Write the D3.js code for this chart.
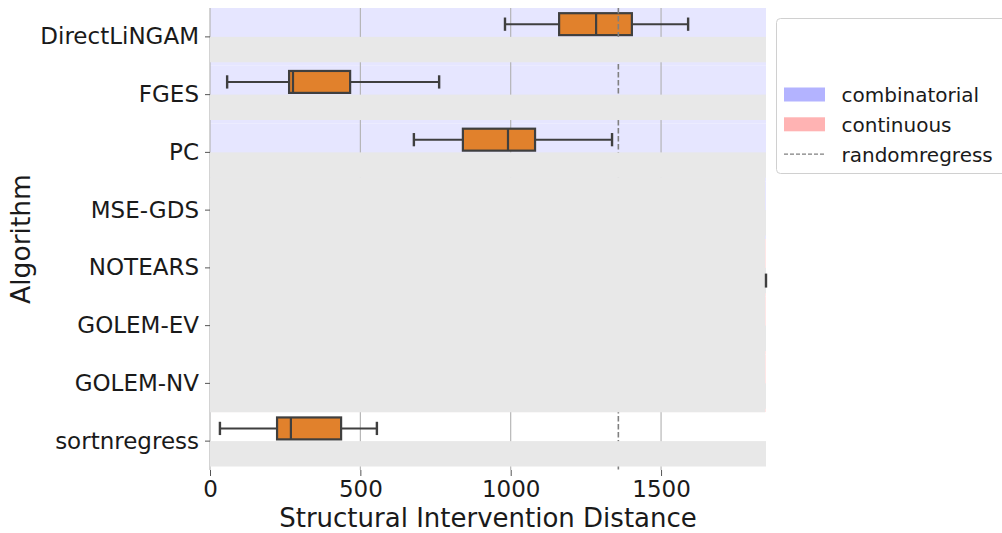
<!DOCTYPE html>
<html>
<head>
<meta charset="utf-8">
<script src="https://cdn.jsdelivr.net/npm/d3@7"></script>
<style>
  html, body { margin: 0; padding: 0; background: #fff; }
  svg { display: block; font-family: "DejaVu Sans", sans-serif; }
</style>
</head>
<body>
<svg id="chart" width="1002" height="533"></svg>
<script>
// chart values
const algorithms = ["DirectLiNGAM", "FGES", "PC", "MSE-GDS", "NOTEARS", "GOLEM-EV", "GOLEM-NV", "sortnregress"];
const bandType = ["combinatorial", "combinatorial", "combinatorial", "combinatorial", "continuous", "continuous", "continuous", "none"];
const greyedOut = [false, false, false, true, true, true, true, false];

// box stats (combinatorial hue, upper slot)
const whiskerLow = [981, 57, 678, null, null, null, null, 33];
const quart1 = [1161, 263, 841, null, null, null, null, 223];
const medians = [1284, 276, 991, null, null, null, null, 269];
const quart3 = [1403, 466, 1081, null, null, null, null, 436];
const whiskerHigh = [1590, 762, 1337, null, null, null, null, 555];

// continuous hue (lower slot) is almost all off the axis; only one cap shows
const contWhiskerLow = [null, null, null, null, 1849, null, null, null];

const randomRegress = 1358;
const xTicks = [0, 500, 1000, 1500];
const xMax = 1849;

const legendItems = ["combinatorial", "continuous", "randomregress"];

const bandColors = { combinatorial: "#e6e6ff", continuous: "#ffe6e6", none: "#ffffff" };
const legendColors = { combinatorial: "#b3b3ff", continuous: "#ffb3b3" };

const svg = d3.select("#chart");
const plotLeft = 210, plotRight = 766, plotTop = 8, plotBottom = 470;

const x = d3.scaleLinear().domain([0, xMax]).range([plotLeft, plotRight]);
const y = d3.scaleBand().domain(algorithms).range([plotTop, plotBottom]);
const step = y.step();
const rowMid = (a) => y(a) + step / 2;

const rows = algorithms.map((a, i) => ({
  name: a, type: bandType[i], grey: greyedOut[i],
  lo: whiskerLow[i], q1: quart1[i], med: medians[i], q3: quart3[i], hi: whiskerHigh[i],
  contLo: contWhiskerLow[i]
}));

// row bands
svg.append("g").selectAll("rect").data(rows).join("rect")
  .attr("x", plotLeft).attr("width", plotRight - plotLeft)
  .attr("y", d => y(d.name)).attr("height", step)
  .attr("fill", d => bandColors[d.type]);

// grid lines
svg.append("g").selectAll("line").data(xTicks).join("line")
  .attr("x1", d => x(d)).attr("x2", d => x(d))
  .attr("y1", plotTop).attr("y2", plotBottom)
  .attr("stroke", "#b0b0b0").attr("stroke-width", 1.1);

const boxH = step * 0.38;
const capH = step * 0.23;
const slot = step * 0.22;
const boxed = rows.filter(d => d.q1 != null);

const boxes = svg.append("g").selectAll("g").data(boxed).join("g")
  .attr("transform", d => `translate(0,${rowMid(d.name) - slot})`);

boxes.append("line")
  .attr("x1", d => x(d.lo)).attr("x2", d => x(d.q1))
  .attr("stroke", "#3f3f3f").attr("stroke-width", 2);
boxes.append("line")
  .attr("x1", d => x(d.q3)).attr("x2", d => x(d.hi))
  .attr("stroke", "#3f3f3f").attr("stroke-width", 2);
boxes.selectAll(".cap").data(d => [d.lo, d.hi]).join("line")
  .attr("class", "cap")
  .attr("x1", v => x(v)).attr("x2", v => x(v))
  .attr("y1", -capH / 2).attr("y2", capH / 2)
  .attr("stroke", "#3f3f3f").attr("stroke-width", 2.4);
boxes.append("rect")
  .attr("x", d => x(d.q1)).attr("width", d => x(d.q3) - x(d.q1))
  .attr("y", -boxH / 2).attr("height", boxH)
  .attr("fill", "#e1812c").attr("stroke", "#3f3f3f").attr("stroke-width", 2.2);
boxes.append("line")
  .attr("x1", d => x(d.med)).attr("x2", d => x(d.med))
  .attr("y1", -boxH / 2).attr("y2", boxH / 2)
  .attr("stroke", "#3f3f3f").attr("stroke-width", 2.2);

// randomregress reference
svg.append("line")
  .attr("x1", x(randomRegress)).attr("x2", x(randomRegress))
  .attr("y1", plotTop).attr("y2", plotBottom)
  .attr("stroke", "#808080").attr("stroke-width", 1.6)
  .attr("stroke-dasharray", "5.5,2.5");

// grey strips over the lower slot of each row, and over greyed rows
const grey = svg.append("g");
grey.selectAll("rect.slot").data(rows).join("rect")
  .attr("class", "slot")
  .attr("x", plotLeft).attr("width", plotRight - plotLeft)
  .attr("y", d => rowMid(d.name)).attr("height", step * 0.44)
  .attr("fill", "#e8e8e8");
grey.selectAll("rect.full").data(rows.filter(d => d.grey)).join("rect")
  .attr("class", "full")
  .attr("x", plotLeft).attr("width", plotRight - plotLeft - 1)
  .attr("y", d => y(d.name) - 4).attr("height", step + 4)
  .attr("fill", "#e8e8e8");

// visible cap of the continuous hue at the right edge
svg.append("g").selectAll("line").data(rows.filter(d => d.contLo != null)).join("line")
  .attr("x1", d => x(d.contLo)).attr("x2", d => x(d.contLo))
  .attr("y1", d => rowMid(d.name) + slot - 7).attr("y2", d => rowMid(d.name) + slot + 7)
  .attr("stroke", "#3f3f3f").attr("stroke-width", 2.4);

// axes
const yAxis = svg.append("g").attr("transform", `translate(${plotLeft},0)`)
  .call(d3.axisLeft(y).tickSize(5).tickPadding(6));
const xAxis = svg.append("g").attr("transform", `translate(0,${plotBottom})`)
  .call(d3.axisBottom(x).tickValues(xTicks).tickFormat(d3.format("d")).tickSize(6).tickPadding(5));
[yAxis, xAxis].forEach(g => {
  g.select(".domain").remove();
  g.selectAll(".tick line").attr("stroke", "#555").attr("stroke-width", 1);
  g.selectAll(".tick text").attr("fill", "#1a1a1a").style("font-size", "23px")
    .style("font-family", "DejaVu Sans, sans-serif");
});

svg.append("text")
  .attr("x", (plotLeft + plotRight) / 2).attr("y", 527)
  .attr("text-anchor", "middle").attr("fill", "#1a1a1a")
  .style("font-size", "26px")
  .text("Structural Intervention Distance");

svg.append("text")
  .attr("transform", `translate(30,${(plotTop + plotBottom) / 2}) rotate(-90)`)
  .attr("text-anchor", "middle").attr("fill", "#1a1a1a")
  .style("font-size", "26.5px")
  .text("Algorithm");

// legend
const lg = svg.append("g").attr("transform", "translate(776.5,18.5)");
lg.append("rect")
  .attr("width", 250).attr("height", 155).attr("rx", 4)
  .attr("fill", "#fff").attr("stroke", "#d0d0d0").attr("stroke-width", 1);
const items = lg.selectAll("g").data(legendItems).join("g")
  .attr("transform", (d, i) => `translate(0,${76 + i * 29.8})`);
items.filter(d => legendColors[d])
  .append("rect").attr("x", 7.5).attr("y", -7).attr("width", 41).attr("height", 14)
  .attr("fill", d => legendColors[d]);
items.filter(d => !legendColors[d])
  .append("line").attr("x1", 7.5).attr("x2", 48.5)
  .attr("stroke", "#808080").attr("stroke-width", 1.4).attr("stroke-dasharray", "4,2");
items.append("text")
  .attr("x", 65).attr("y", 7.5)
  .attr("fill", "#1a1a1a").style("font-size", "20px")
  .text(d => d);
</script>
</body>
</html>
